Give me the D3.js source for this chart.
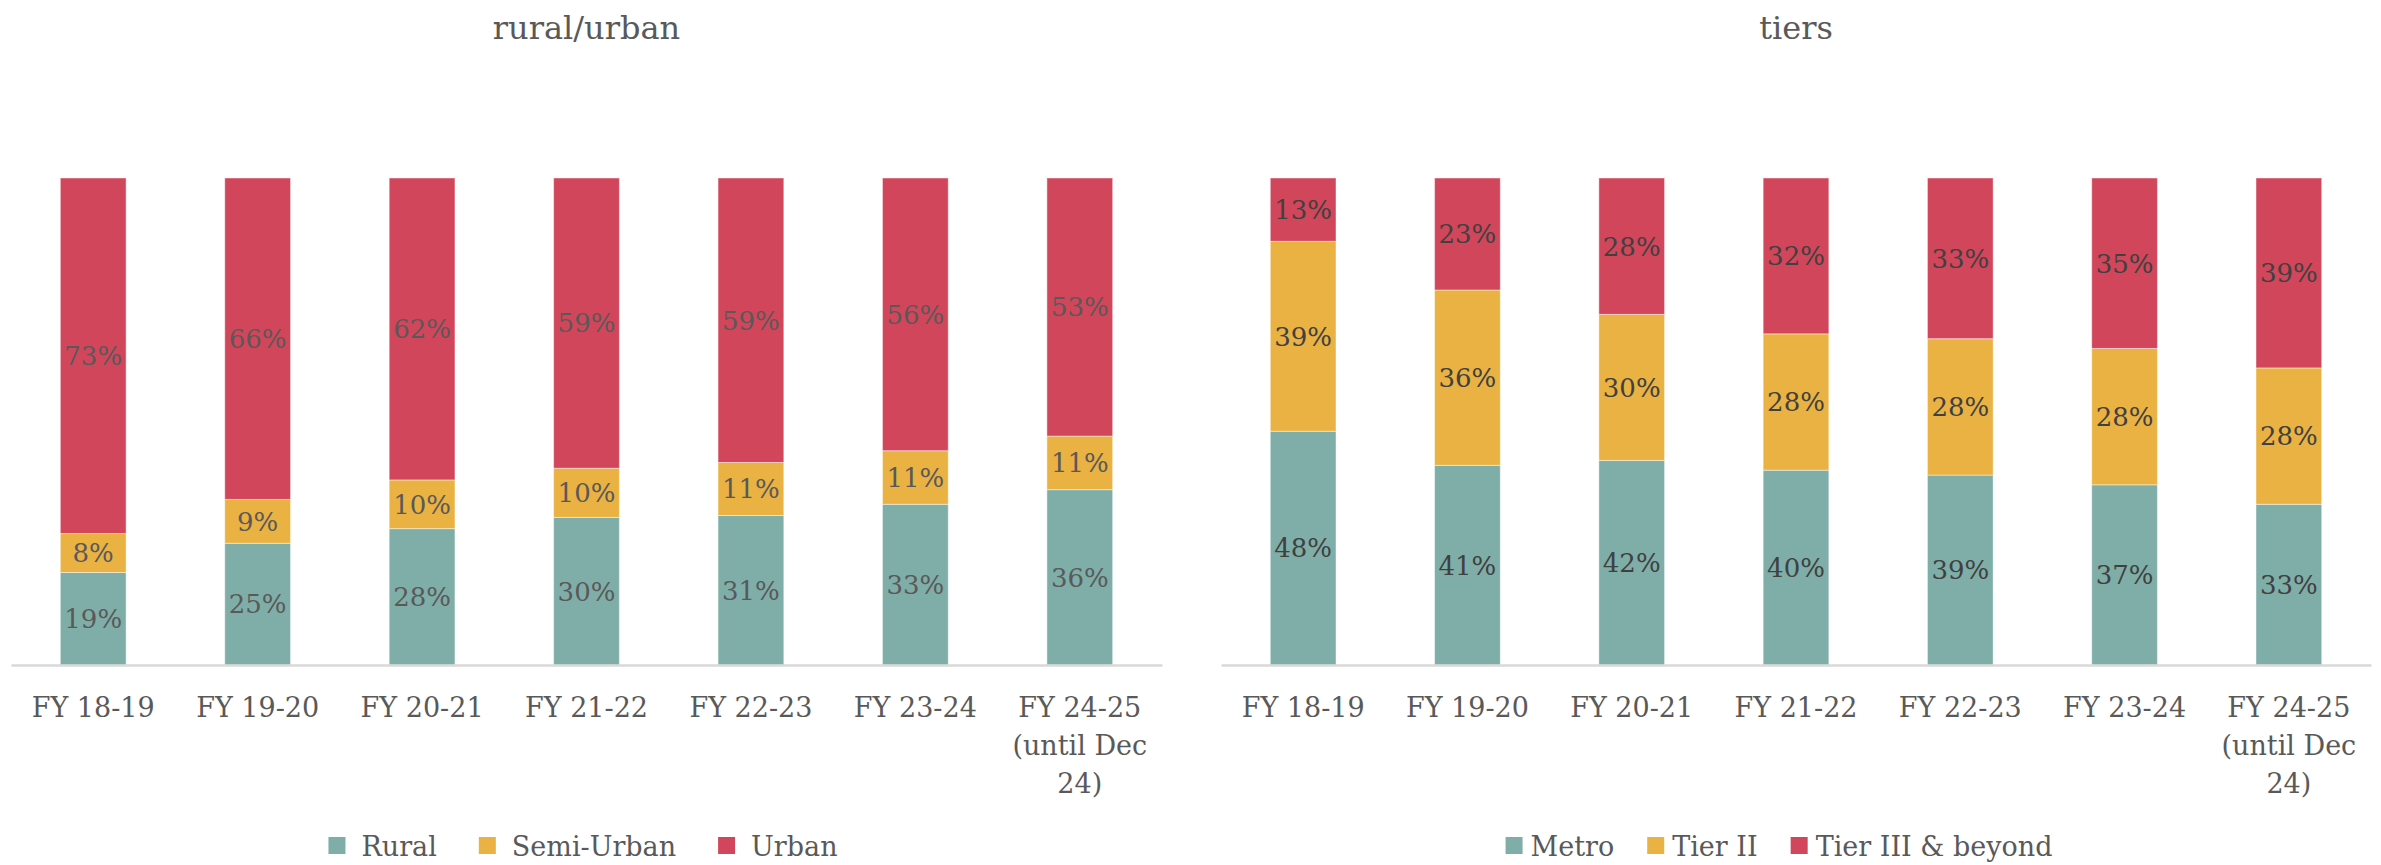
<!DOCTYPE html>
<html>
<head>
<meta charset="utf-8">
<script src="https://cdn.jsdelivr.net/npm/d3@7"></script>
<style>
  body { margin: 0; background: #fff; }
  text { font-family: "DejaVu Serif", serif; }
</style>
</head>
<body>
<div id="chart"></div>
<script>
// categories (\n marks a line break in the tick label)
var years = ["FY 18-19", "FY 19-20", "FY 20-21", "FY 21-22", "FY 22-23", "FY 23-24", "FY 24-25\n(until Dec\n24)"];

// rural/urban split, % of total
var ruralKeys = ["Rural", "Semi-Urban", "Urban"];
var rural = [19, 25, 28, 30, 31, 33, 36];
var semiUrban = [8, 9, 10, 10, 11, 11, 11];
var urban = [73, 66, 62, 59, 59, 56, 53];

// tier split, % of total
var tierKeys = ["Metro", "Tier II", "Tier III & beyond"];
var metro = [48, 41, 42, 40, 39, 37, 33];
var tier2 = [39, 36, 30, 28, 28, 28, 28];
var tier3 = [13, 23, 28, 32, 33, 35, 39];

var colors = ["#7faea8", "#eab242", "#d1465b"];

var W = 2381, H = 865;
var svg = d3.select("#chart").append("svg").attr("width", W).attr("height", H);

function drawPanel(opt) {
  var rows = years.map(function(y, i) {
    var r = {year: y};
    opt.keys.forEach(function(k, j) { r[k] = opt.series[j][i]; });
    return r;
  });

  var x = d3.scaleBand().domain(years).range([opt.x0, opt.x1]).paddingInner(0.6).paddingOuter(0.3);
  var y = d3.scaleLinear().domain([0, 1]).range([665, 178]);
  var color = d3.scaleOrdinal().domain(opt.keys).range(colors);

  var stacked = d3.stack().keys(opt.keys).offset(d3.stackOffsetExpand)(rows);

  var g = svg.append("g");

  g.append("text")
    .attr("x", (opt.x0 + opt.x1) / 2).attr("y", 39)
    .attr("text-anchor", "middle")
    .attr("font-size", "32px").attr("fill", "#595959")
    .text(opt.title);

  var layer = g.selectAll(".layer")
    .data(stacked)
    .enter().append("g")
    .attr("class", "layer")
    .attr("fill", function(d) { return color(d.key); });

  layer.selectAll("rect")
    .data(function(d) { return d; })
    .enter().append("rect")
    .attr("x", function(d) { return x(d.data.year); })
    .attr("y", function(d) { return y(d[1]); })
    .attr("width", x.bandwidth())
    .attr("height", function(d) { return y(d[0]) - y(d[1]); })
    .attr("stroke", "#fff").attr("stroke-opacity", 0.45).attr("stroke-width", 1);

  layer.selectAll("text")
    .data(function(d) { return d.map(function(p) { return {p: p, key: d.key}; }); })
    .enter().append("text")
    .attr("x", function(d) { return x(d.p.data.year) + x.bandwidth() / 2; })
    .attr("y", function(d) { return (y(d.p[0]) + y(d.p[1])) / 2; })
    .attr("dy", "0.36em")
    .attr("text-anchor", "middle")
    .attr("font-size", "26px")
    .attr("fill", opt.labelColor)
    .text(function(d) { return d.p.data[d.key] + "%"; });

  var axis = g.append("g")
    .attr("transform", "translate(0,665)")
    .call(d3.axisBottom(x).tickSize(0).tickSizeOuter(0));
  axis.select(".domain").attr("stroke", "#d9d9d9").attr("stroke-width", 2.5);
  axis.selectAll(".tick text").each(function(d) {
    var t = d3.select(this).text("").attr("y", 52).attr("dy", null)
      .attr("font-size", "27px").attr("font-family", "DejaVu Serif").attr("fill", "#595959");
    d.split("\n").forEach(function(line, i) {
      t.append("tspan").attr("x", 0).attr("dy", i ? 38 : 0).text(line);
    });
  });

  // legend, centred under the plot
  var leg = g.append("g").attr("transform", "translate(0,846)");
  var items = leg.selectAll("g").data(opt.keys).enter().append("g");
  items.append("rect").attr("width", 17).attr("height", 17).attr("y", -9)
    .attr("fill", function(d) { return color(d); });
  items.append("text").attr("x", 17 + opt.legGap).attr("dy", "0.36em")
    .attr("font-size", "27px").attr("fill", "#595959")
    .text(function(d) { return d; });
  var pos = 0;
  items.each(function() {
    var w = this.getBBox().width;
    d3.select(this).attr("transform", "translate(" + pos + ",0)");
    pos += w + opt.itemGap;
  });
  var total = pos - opt.itemGap;
  leg.attr("transform", "translate(" + (opt.legCenter - total / 2) + ",846)");
}

drawPanel({title: "rural/urban", keys: ruralKeys, series: [rural, semiUrban, urban],
  x0: 11, x1: 1162, labelColor: "#595959", legGap: 16, itemGap: 42, legCenter: 583});
drawPanel({title: "tiers", keys: tierKeys, series: [metro, tier2, tier3],
  x0: 1221, x1: 2371, labelColor: "#404040", legGap: 8, itemGap: 33, legCenter: 1779});
</script>
</body>
</html>
